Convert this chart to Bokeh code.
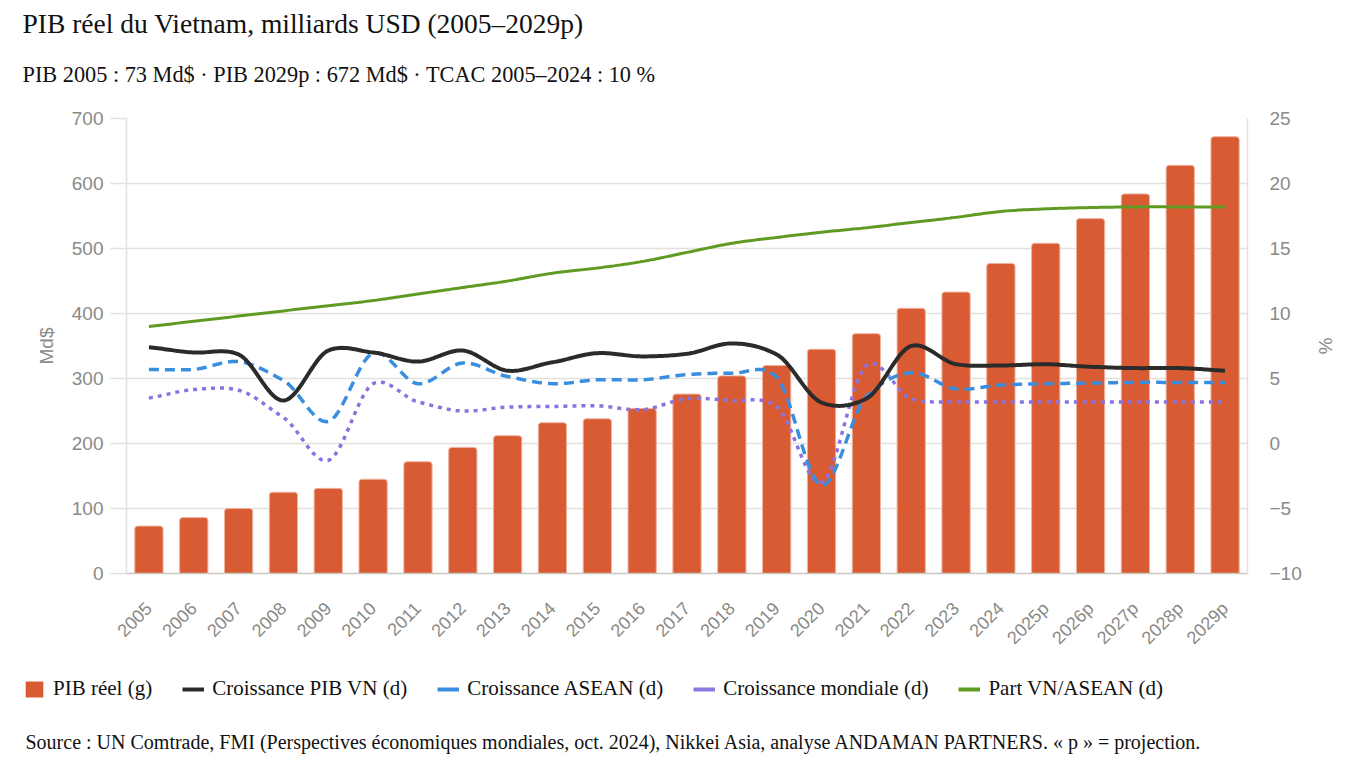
import numpy as np
from math import pi
from bokeh.plotting import figure
from bokeh.layouts import column
from bokeh.models import (Range1d, LinearAxis, FixedTicker, Legend, LegendItem, Title, Label)
from bokeh.embed import file_html
from bokeh.resources import INLINE

# ---- data ----
years = ["2005", "2006", "2007", "2008", "2009", "2010", "2011", "2012", "2013",
         "2014", "2015", "2016", "2017", "2018", "2019", "2020", "2021", "2022",
         "2023", "2024", "2025p", "2026p", "2027p", "2028p", "2029p"]
pib_reel = [73, 86, 100, 125, 131, 145, 172, 194, 212, 232, 238, 254, 276, 304, 320,
            345, 369, 408, 433, 477, 508, 546, 584, 628, 672]
croissance_vn = [7.4, 7.0, 6.85, 3.3, 7.15, 7.0, 6.3, 7.15, 5.6, 6.25, 6.95, 6.7, 6.9,
                 7.7, 6.85, 3.15, 3.45, 7.5, 6.1, 6.0, 6.1, 5.9, 5.8, 5.8, 5.6]
croissance_asean = [5.7, 5.7, 6.3, 4.85, 1.7, 6.95, 4.6, 6.2, 5.15, 4.6, 4.9, 4.9, 5.3,
                    5.4, 5.1, -3.2, 3.6, 5.45, 4.2, 4.5, 4.6, 4.65, 4.7, 4.7, 4.7]
croissance_monde = [3.5, 4.15, 4.1, 2.0, -1.3, 4.6, 3.2, 2.5, 2.8, 2.85, 2.9, 2.6, 3.45,
                    3.3, 2.85, -3.0, 6.0, 3.45, 3.2, 3.2, 3.2, 3.2, 3.2, 3.2, 3.2]
part_vn_asean = [9.0, 9.4, 9.8, 10.2, 10.6, 11.0, 11.5, 12.0, 12.5, 13.1, 13.5, 14.0,
                 14.7, 15.4, 15.85, 16.25, 16.6, 17.0, 17.4, 17.85, 18.05, 18.15, 18.2,
                 18.2, 18.2]
left_ticks = [0, 100, 200, 300, 400, 500, 600, 700]
right_ticks = [-10, -5, 0, 5, 10, 15, 20, 25]

title_text = "PIB réel du Vietnam, milliards USD (2005–2029p)"
subtitle_text = "PIB 2005 : 73 Md$ · PIB 2029p : 672 Md$ · TCAC 2005–2024 : 10 %"
source_text = ("Source : UN Comtrade, FMI (Perspectives économiques mondiales, oct. 2024), "
               "Nikkei Asia, analyse ANDAMAN PARTNERS. « p » = projection.")
legend_labels = ["PIB réel (g)", "Croissance PIB VN (d)", "Croissance ASEAN (d)",
                 "Croissance mondiale (d)", "Part VN/ASEAN (d)"]

xs = list(range(len(years)))


def smooth(vals, n=20, k=0.8):
    """Render a smooth cubic Hermite curve through the data points (tension k)."""
    y = np.asarray(vals, dtype=float)
    x = np.arange(len(y), dtype=float)
    m = np.gradient(y) * k
    out_x, out_y = [], []
    t = np.linspace(0, 1, n, endpoint=False)
    h00 = 2 * t**3 - 3 * t**2 + 1
    h10 = t**3 - 2 * t**2 + t
    h01 = -2 * t**3 + 3 * t**2
    h11 = t**3 - t**2
    for i in range(len(y) - 1):
        out_x.extend(x[i] + t)
        out_y.extend(h00 * y[i] + h10 * m[i] + h01 * y[i + 1] + h11 * m[i + 1])
    out_x.append(x[-1])
    out_y.append(y[-1])
    return out_x, out_y


GRID = "#e2e1db"
TICKC = "#8a8a86"
SERIF = "Liberation Serif"
SANS = "Liberation Sans"
C_BAR = "#d95b33"
C_VN = "#2b2b2b"
C_AS = "#3a8ee0"
C_WD = "#8a73e0"
C_PT = "#5f9b22"

W = 1340

p = figure(frame_width=1121, frame_height=455,
           x_range=Range1d(-0.5, len(years) - 0.5),
           y_range=Range1d(0, 700), output_backend="svg", toolbar_location=None,
           title=title_text, min_border_left=126, min_border_right=93,
           min_border_top=118, min_border_bottom=92)
p.frame_align = False
p.extra_y_ranges = {"pct": Range1d(-10, 25)}
p.outline_line_color = None
p.background_fill_color = "white"
p.border_fill_color = "white"

xa = p.below[0]
ya = p.left[0]

sub = Title(text=subtitle_text, text_font=SERIF, text_font_size="22.3px",
            text_font_style="normal", text_color="#111111", offset=-104,
            standoff=64, vertical_align="bottom")
p.add_layout(sub, "above")

p.title.text_font = SERIF
p.title.text_font_size = "27.5px"
p.title.text_font_style = "normal"
p.title.text_color = "#111111"
p.title.offset = -104
p.title.standoff = -22
p.title.vertical_align = "bottom"

# axes
xa.ticker = FixedTicker(ticks=xs)
xa.major_label_overrides = {i: years[i] for i in xs}
xa.major_label_orientation = pi / 4
xa.major_label_text_font = SANS
xa.major_label_text_font_size = "18px"
xa.major_label_text_color = TICKC
xa.major_tick_line_color = None
xa.minor_tick_line_color = None
xa.axis_line_color = "#c9c8c2"
xa.axis_line_width = 1.5
xa.major_label_standoff = 26

ya.ticker = FixedTicker(ticks=left_ticks)
ya.axis_label = "Md$"
ya.axis_label_text_font = SANS
ya.axis_label_text_font_size = "19px"
ya.axis_label_text_font_style = "normal"
ya.axis_label_text_color = TICKC
ya.axis_label_standoff = 12
ya.major_label_text_font = SANS
ya.major_label_text_font_size = "19px"
ya.major_label_text_color = TICKC
ya.axis_line_color = GRID
ya.axis_line_width = 1.5
ya.major_tick_line_color = GRID
ya.major_tick_line_width = 1.5
ya.major_tick_out = 16
ya.major_tick_in = 0
ya.minor_tick_line_color = None
ya.major_label_standoff = 7

yr = LinearAxis(y_range_name="pct", ticker=FixedTicker(ticks=right_ticks), axis_label="%")
yr.axis_label_text_font = SANS
yr.axis_label_text_font_size = "19px"
yr.axis_label_text_font_style = "normal"
yr.axis_label_text_color = TICKC
yr.axis_label_standoff = 10
yr.major_label_text_font = SANS
yr.major_label_text_font_size = "19px"
yr.major_label_text_color = TICKC
yr.axis_line_color = GRID
yr.axis_line_width = 1.5
yr.major_tick_line_color = None
yr.major_tick_out = 0
yr.major_tick_in = 0
yr.minor_tick_line_color = None
yr.major_label_standoff = 22
p.add_layout(yr, "right")

p.xgrid.grid_line_color = None
p.ygrid.ticker = FixedTicker(ticks=left_ticks)
p.ygrid.grid_line_color = GRID
p.ygrid.grid_line_width = 1.5

# bars
p.vbar(x=xs, top=pib_reel, width=0.63, fill_color=C_BAR,
       line_color="#efb39d", line_width=1, border_radius=(3, 3, 0, 0))

# smooth lines
gx, gy = smooth(part_vn_asean, k=1.0)
p.line(gx, gy, y_range_name="pct", line_color=C_PT, line_width=3)
wx, wy = smooth(croissance_monde)
p.line(wx, wy, y_range_name="pct", line_color=C_WD, line_width=3.5, line_dash="4 5")
ax_, ay_ = smooth(croissance_asean)
p.line(ax_, ay_, y_range_name="pct", line_color=C_AS, line_width=3.5, line_dash="10 6")
vx, vy = smooth(croissance_vn)
p.line(vx, vy, y_range_name="pct", line_color=C_VN, line_width=4)

# ---- legend + source strip ----
p2 = figure(width=W, height=89, x_range=Range1d(0, 1), y_range=Range1d(0, 1),
            x_axis_type=None, y_axis_type=None, output_backend="svg",
            toolbar_location=None, min_border=0)
p2.frame_align = False
p2.outline_line_color = None
p2.grid.visible = False
p2.background_fill_color = "white"
p2.border_fill_color = "white"

# legend proxies: same series, hidden in this strip (legend shows solid strokes)
r_bar = p2.vbar(x=xs, top=pib_reel, width=0.5, fill_color=C_BAR, line_color=None,
                border_radius=3, visible=False)
r_vn = p2.line(xs, croissance_vn, line_color=C_VN, line_width=4, visible=False)
r_as = p2.line(xs, croissance_asean, line_color=C_AS, line_width=4, visible=False)
r_wd = p2.line(xs, croissance_monde, line_color="#8a7ae0", line_width=4, visible=False)
r_pt = p2.line(xs, part_vn_asean, line_color=C_PT, line_width=4, visible=False)

legend = Legend(items=[LegendItem(label=lab, renderers=[r]) for lab, r in
                       zip(legend_labels, [r_bar, r_vn, r_as, r_wd, r_pt])],
                orientation="horizontal", location=(23, 53))
legend.glyph_width = 22
legend.glyph_height = 20
legend.label_text_font = SERIF
legend.label_text_font_size = "21px"
legend.label_text_color = "#111111"
legend.label_standoff = 8
legend.spacing = 30
legend.padding = 0
legend.margin = 0
legend.border_line_color = None
legend.background_fill_alpha = 0
legend.click_policy = "none"
p2.add_layout(legend, "center")

src = Label(x=25, y=13, x_units="screen", y_units="screen", text=source_text,
            text_font=SERIF, text_font_size="20px", text_color="#111111",
            text_baseline="alphabetic", text_align="left")
p2.add_layout(src)

layout = column(p, p2, spacing=0)
open("out.html", "w").write(file_html(layout, INLINE))
